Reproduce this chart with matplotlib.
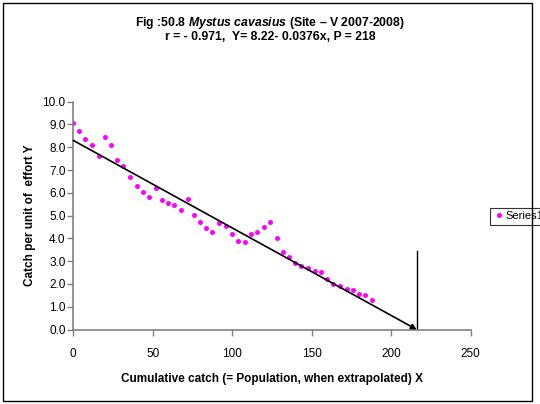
import matplotlib.pyplot as plt
from matplotlib.patches import Rectangle

# Cumulative catch (X) and catch per unit of effort (Y)
cum_catch = [0, 3.6, 7.5, 11.6, 16.0, 19.7, 23.7, 27.7, 31.4, 35.5, 40.1, 43.8,
             47.8, 51.8, 55.6, 59.6, 63.5, 67.9, 71.9, 75.7, 79.7, 83.5, 87.4,
             91.4, 95.8, 99.8, 103.8, 107.8, 111.6, 115.5, 119.7, 123.7, 127.9,
             131.9, 135.7, 139.4, 143.4, 147.6, 151.8, 155.6, 159.6, 163.5,
             167.7, 171.9, 175.7, 179.7, 183.6, 187.7]
cpue = [9.07, 8.71, 8.37, 8.08, 7.60, 8.44, 8.08, 7.45, 7.18, 6.70, 6.29, 6.03,
        5.81, 6.19, 5.67, 5.55, 5.45, 5.24, 5.72, 5.02, 4.71, 4.45, 4.29,
        4.66, 4.55, 4.19, 3.87, 3.82, 4.19, 4.29, 4.50, 4.71, 4.03,
        3.41, 3.18, 2.92, 2.80, 2.71, 2.58, 2.52, 2.20, 2.01,
        1.91, 1.79, 1.73, 1.57, 1.51, 1.31]

# fitted line as drawn: starts near the intercept, arrow ends at the population estimate
fit_y0 = 8.3
fit_x_end = 216
marker_top = 3.45

xticks = [0, 50, 100, 150, 200, 250]
yticks = [0, 1, 2, 3, 4, 5, 6, 7, 8, 9, 10]

plt.rcParams['font.family'] = ['Liberation Sans Narrow', 'Liberation Sans', 'DejaVu Sans']
plt.rcParams['mathtext.fontset'] = 'custom'
plt.rcParams['mathtext.it'] = 'Liberation Sans:italic:bold'
plt.rcParams['mathtext.rm'] = 'Liberation Sans:bold'

fig = plt.figure(figsize=(5.4, 4.04), dpi=100)
ax = fig.add_axes([0.1357, 0.1844, 0.736, 0.5639])

ax.plot(cum_catch, cpue, linestyle='none', marker='o', markersize=3.6,
        color='#FF00FF', markeredgewidth=0, label='Series1')

ax.annotate('', xy=(fit_x_end, 0), xytext=(0, fit_y0),
            arrowprops=dict(arrowstyle='-|>', color='black', lw=1.2,
                            mutation_scale=8, shrinkA=0, shrinkB=0))
ax.plot([fit_x_end, fit_x_end], [0, marker_top], color='black', lw=1.0)

ax.set_xlim(0, 250)
ax.set_ylim(0, 10)
ax.set_xticks(xticks)
ax.set_yticks(yticks)
ax.set_yticklabels([f'{v:.1f}' for v in yticks])

for side in ['top', 'right']:
    ax.spines[side].set_visible(False)
for side in ['left', 'bottom']:
    ax.spines[side].set_color('#808080')
    ax.spines[side].set_linewidth(1.2)
ax.tick_params(direction='out', length=4, width=1, color='#808080', labelsize=8.5)
ax.tick_params(axis='x', pad=9)
ax.tick_params(axis='y', pad=1.5)

ax.set_xlabel('Cumulative catch (= Population, when extrapolated) X',
              fontsize=8.5, fontweight='bold', labelpad=10)
ax.set_ylabel('Catch per unit of  effort Y', fontsize=8.5, fontweight='bold',
              labelpad=5)

fig.text(0.5, 1 - 23 / 404, 'Fig :50.8 $\\it{Mystus\\ cavasius}$ (Site \u2013 V 2007-2008)',
         ha='center', va='center', fontsize=8.8, fontweight='bold')
fig.text(0.5, 1 - 37 / 404, 'r = - 0.971,  Y= 8.22- 0.0376x, P = 218',
         ha='center', va='center', fontsize=8.8, fontweight='bold')

leg = ax.legend(loc='upper left', bbox_to_anchor=(490 / 540, 1 - 208 / 404),
                bbox_transform=fig.transFigure, fontsize=8, frameon=True,
                fancybox=False, borderpad=0.3, handletextpad=0.1,
                handlelength=1.0, borderaxespad=0)
leg.get_frame().set_edgecolor('black')
leg.get_frame().set_linewidth(0.8)

fig.patches.append(Rectangle((3 / 540, 3 / 404), 529 / 540, 398 / 404,
                             transform=fig.transFigure, fill=False,
                             edgecolor='black', linewidth=1.0))

fig.savefig('out.png', dpi=100)
